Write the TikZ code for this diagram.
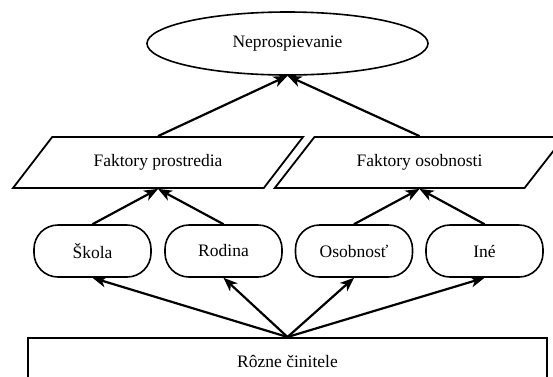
\documentclass[tikz,border=0pt]{standalone}
\usepackage{fontspec}
\setmainfont{Liberation Serif}
\newfontfamily\diagfont{Liberation Serif}
\usetikzlibrary{positioning,shapes.geometric,arrows.meta}
\tikzset{>={Stealth[length=14pt,width=11pt,inset=4pt]}}
\tikzset{
  textfont/.style={font=\diagfont\fontsize{17.5}{20}\selectfont},
  ovalbox/.style={draw, ellipse, line width=1.6pt, minimum width=281pt, minimum height=63pt, textfont},
  parbox/.style={draw, trapezium, trapezium left angle=42, trapezium right angle=138, trapezium stretches=true, line width=1.8pt, minimum width=290pt, minimum height=51pt, textfont},
  pillbox/.style={draw, rectangle, rounded corners=24pt, line width=1.6pt, minimum width=117pt, minimum height=52pt, textfont},
  basebox/.style={draw, rectangle, line width=2pt, minimum width=519pt, minimum height=46pt, textfont},
  conn/.style={->, line width=2.2pt}
}
\begin{document}
\begin{tikzpicture}[x=1pt, y=-1pt]
      \useasboundingbox (0,0) rectangle (553,376);
      \node[ovalbox] (neprosp) at (287.5,43.5) {Neprospievanie};
      \node[parbox] (fprostr) at (158,162.5) {Faktory prostredia};
      \node[parbox, right of=fprostr, node distance=261.5pt] (fosob) {Faktory osobnosti};
      \node[pillbox] (skola) at (92.5,251) {Škola};
      \node[pillbox, right of=skola, node distance=131pt] (rodina) {Rodina};
      \node[pillbox, right of=rodina, node distance=130.5pt] (osobnost) {Osobnosť};
      \node[pillbox, right of=osobnost, node distance=130.5pt] (ine) {Iné};
      \node[basebox] (cinitele) at (287.5,361) {Rôzne činitele};
      \draw[conn] (fprostr.north) -- (neprosp.south);
      \draw[conn] (fosob.north) -- (neprosp.south);
      \draw[conn] (skola.north) -- (fprostr.south);
      \draw[conn] (rodina.north) -- (fprostr.south);
      \draw[conn] (osobnost.north) -- (fosob.south);
      \draw[conn] (ine.north) -- (fosob.south);
      \draw[conn] (cinitele.north) -- (skola.south);
      \draw[conn] (cinitele.north) -- (rodina.south);
      \draw[conn] (cinitele.north) -- (osobnost.south);
      \draw[conn] (cinitele.north) -- (ine.south);
    \end{tikzpicture}
\end{document}
